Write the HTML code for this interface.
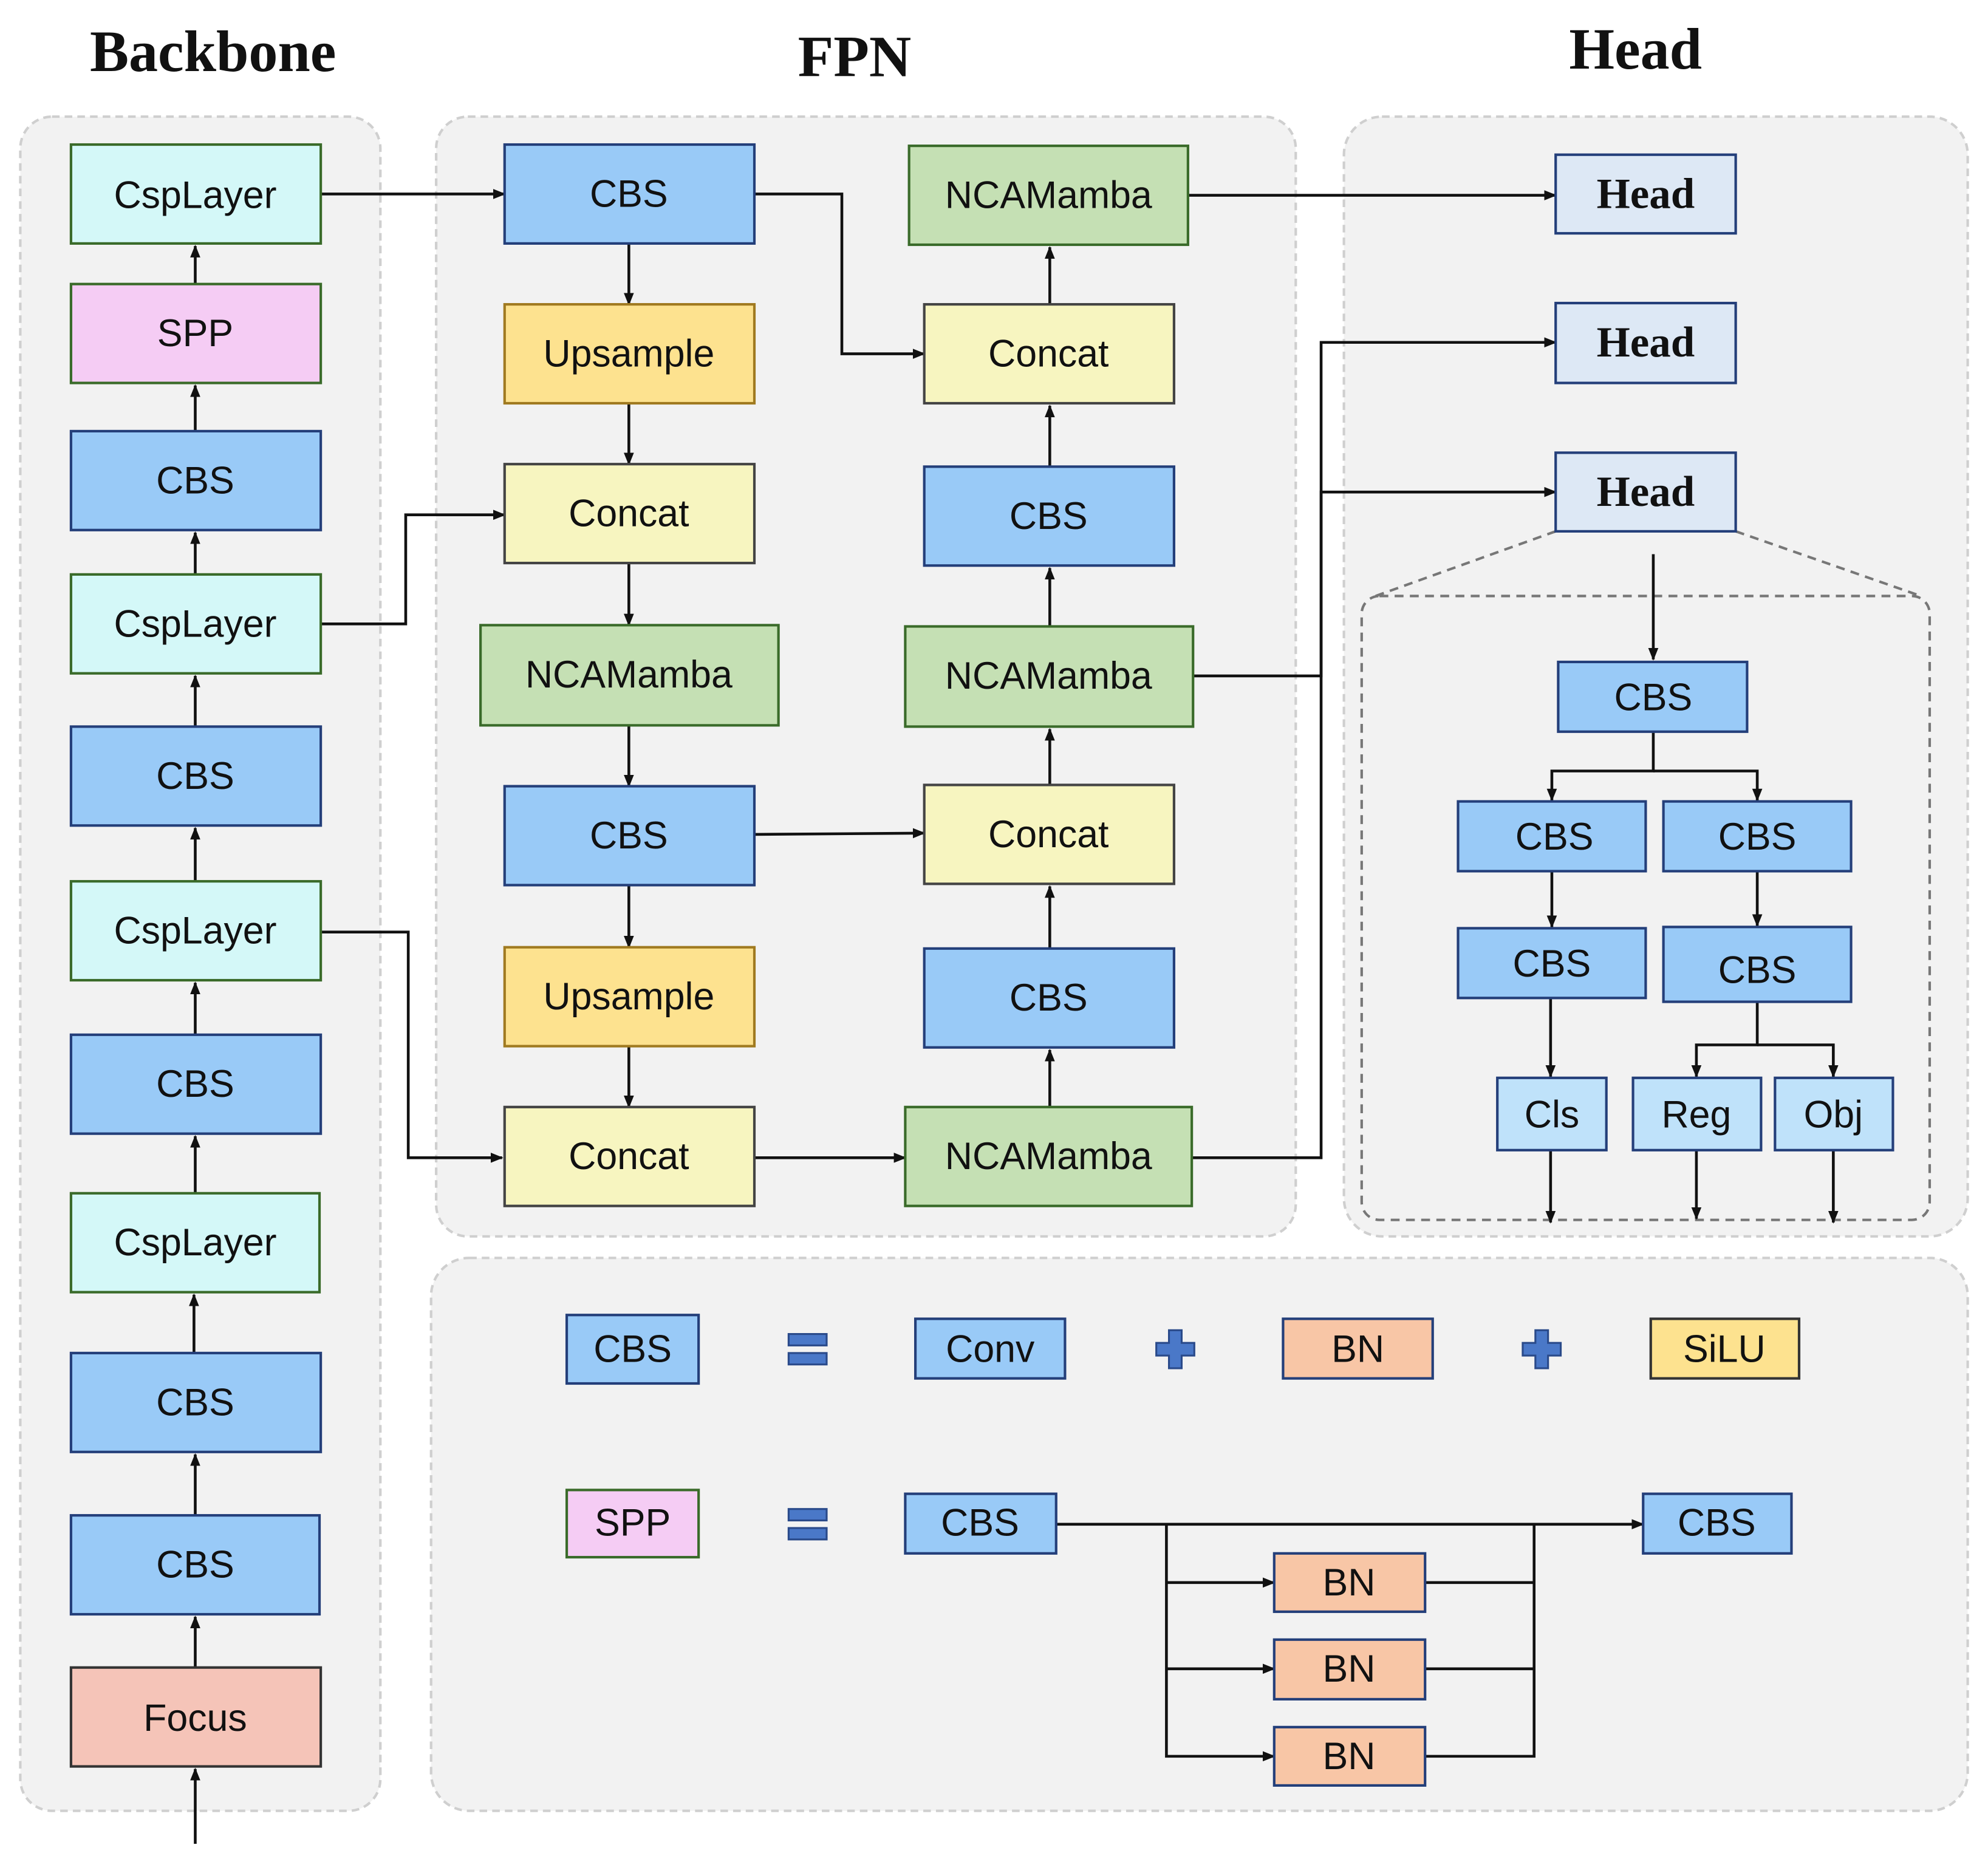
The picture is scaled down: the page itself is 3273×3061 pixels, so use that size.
<!DOCTYPE html>
<html><head><meta charset="utf-8"><style>
html,body{margin:0;padding:0;background:#fff;}
svg{display:block;}
text{font-family:"Liberation Sans",sans-serif;}
.t{font-size:30px;text-anchor:middle;dominant-baseline:central;fill:#111;}
.h{font-family:"Liberation Serif",serif;font-weight:bold;font-size:34px;text-anchor:middle;dominant-baseline:central;fill:#111;}
.ti{font-family:"Liberation Serif",serif;font-weight:bold;font-size:46px;text-anchor:middle;fill:#111;}
.ln{stroke:#111;stroke-width:2.2;fill:none;}
</style></head><body>
<svg width="3273" height="3061" viewBox="0 0 1568 1466" preserveAspectRatio="none" xmlns="http://www.w3.org/2000/svg">
<defs><marker id="a" markerWidth="10" markerHeight="8" refX="9" refY="4" orient="auto" markerUnits="userSpaceOnUse"><path d="M0,0 L10,4 L0,8 z" fill="#111"/></marker></defs>
<rect width="1568" height="1466" fill="#fff"/>
<text class="ti" x="168" y="56">Backbone</text>
<text class="ti" x="674" y="60">FPN</text>
<text class="ti" x="1290" y="54">Head</text>
<g fill="#f2f2f2" stroke="#cfcfcf" stroke-width="2" stroke-dasharray="6,4">
<rect x="16" y="92" width="284" height="1336" rx="25"/>
<rect x="344" y="92" width="678" height="883" rx="25"/>
<rect x="1060" y="92" width="492" height="883" rx="30"/>
<rect x="340" y="992" width="1212" height="436" rx="30"/>
</g>
<!-- head dashed region -->
<g stroke="#777" stroke-width="2" stroke-dasharray="7,5" fill="none">
<rect x="1074" y="470" width="448" height="492" rx="14"/>
<path d="M1227,419 L1085,470 M1369,419 L1515,470"/>
</g>
<!-- connectors -->
<g class="ln" marker-end="url(#a)">
<path d="M154,1454 V1395"/><path d="M154,1315 V1275"/><path d="M154,1195 V1147"/><path d="M153,1067 V1021"/><path d="M154,941 V896"/><path d="M154,816 V775"/><path d="M154,695 V653"/><path d="M154,573 V533"/><path d="M154,453 V420"/><path d="M154,340 V304"/><path d="M154,224 V194"/>
<path d="M253,153 H398"/><path d="M595,153 H664 V279 H729"/><path d="M253,492 H320 V406 H398"/><path d="M253,735 H322 V913 H396"/>
<path d="M496,192 V240"/><path d="M496,318 V366"/><path d="M496,444 V493"/><path d="M496,572 V620"/><path d="M496,698 V747"/><path d="M496,825 V873"/>
<path d="M595,658 L729,657"/><path d="M595,913 H714"/>
<path d="M828,873 V828"/><path d="M828,748 V699"/><path d="M828,619 V575"/><path d="M828,494 V448"/><path d="M828,368 V320"/><path d="M828,240 V195"/>
<path d="M937,154 H1227"/><path d="M941,533 H1042 V270 H1227"/><path d="M940,913 H1042 V388 H1227"/>
<path d="M1304,437 V520"/><path d="M1304,577 V608 H1224 V631"/><path d="M1304,608 H1386 V631"/>
<path d="M1224,687 V731"/><path d="M1386,687 V730"/><path d="M1223,787 V849"/><path d="M1386,790 V824 H1338 V849"/><path d="M1386,824 H1446 V849"/>
<path d="M1223,907 V964"/><path d="M1338,907 V961"/><path d="M1446,907 V964"/>
<path d="M833,1202 H1296"/><path d="M920,1202 V1385 H1005"/><path d="M920,1248 H1005"/><path d="M920,1316 H1005"/>
</g>
<path class="ln" d="M1124,1248 H1210 M1124,1316 H1210 M1124,1385 H1210 V1202"/>
<!-- boxes -->
<g stroke-width="2">
<g fill="#d4f8f8" stroke="#3a6b2a"><rect x="56" y="114" width="197" height="78"/><rect x="56" y="453" width="197" height="78"/><rect x="56" y="695" width="197" height="78"/><rect x="56" y="941" width="196" height="78"/></g>
<rect x="56" y="224" width="197" height="78" fill="#f5ccf4" stroke="#3a6b2a"/>
<rect x="56" y="1315" width="197" height="78" fill="#f5c4b8" stroke="#333"/>
<g fill="#99caf7" stroke="#243f7a">
<rect x="56" y="340" width="197" height="78"/><rect x="56" y="573" width="197" height="78"/><rect x="56" y="816" width="197" height="78"/><rect x="56" y="1067" width="197" height="78"/><rect x="56" y="1195" width="196" height="78"/>
<rect x="398" y="114" width="197" height="78"/><rect x="398" y="620" width="197" height="78"/><rect x="729" y="368" width="197" height="78"/><rect x="729" y="748" width="197" height="78"/>
<rect x="1229" y="522" width="149" height="55"/><rect x="1150" y="632" width="148" height="55"/><rect x="1312" y="632" width="148" height="55"/><rect x="1150" y="732" width="148" height="55"/><rect x="1312" y="731" width="148" height="59"/>
<rect x="447" y="1037" width="104" height="54"/><rect x="722" y="1040" width="118" height="47"/><rect x="714" y="1178" width="119" height="47"/><rect x="1296" y="1178" width="117" height="47"/>
</g>
<g fill="#bfe2fa" stroke="#243f7a"><rect x="1181" y="850" width="86" height="57"/><rect x="1288" y="850" width="101" height="57"/><rect x="1400" y="850" width="93" height="57"/></g>
<g fill="#fde28f" stroke="#a07a20"><rect x="398" y="240" width="197" height="78"/><rect x="398" y="747" width="197" height="78"/><rect x="1302" y="1040" width="117" height="47" stroke="#333"/></g>
<g fill="#f7f5c0" stroke="#444"><rect x="398" y="366" width="197" height="78"/><rect x="398" y="873" width="197" height="78"/><rect x="729" y="240" width="197" height="78"/><rect x="729" y="619" width="197" height="78"/></g>
<g fill="#c5e0b4" stroke="#3a6b2a"><rect x="379" y="493" width="235" height="79"/><rect x="717" y="115" width="220" height="78"/><rect x="714" y="494" width="227" height="79"/><rect x="714" y="873" width="226" height="78"/></g>
<g fill="#dde8f5" stroke="#243f7a"><rect x="1227" y="122" width="142" height="62"/><rect x="1227" y="239" width="142" height="63"/><rect x="1227" y="357" width="142" height="62"/></g>
<g fill="#f8c6a6" stroke="#243f7a"><rect x="1012" y="1040" width="118" height="47"/><rect x="1005" y="1225" width="119" height="46"/><rect x="1005" y="1293" width="119" height="47"/><rect x="1005" y="1362" width="119" height="46"/></g>
<rect x="447" y="1175" width="104" height="53" fill="#f5ccf4" stroke="#3a6b2a"/>
</g>
<!-- icons -->
<g fill="#4a78c8" stroke="#2a4a8a" stroke-width="1.5">
<rect x="622" y="1052" width="30" height="9"/><rect x="622" y="1067" width="30" height="9"/>
<rect x="622" y="1190" width="30" height="9"/><rect x="622" y="1205" width="30" height="9"/>
<path d="M922,1049 h10 v10 h10 v10 h-10 v10 h-10 v-10 h-10 v-10 h10 z"/>
<path d="M1211,1049 h10 v10 h10 v10 h-10 v10 h-10 v-10 h-10 v-10 h10 z"/>
</g>
<!-- labels -->
<text class="t" x="154" y="154">CspLayer</text><text class="t" x="154" y="263">SPP</text><text class="t" x="154" y="379">CBS</text><text class="t" x="154" y="492">CspLayer</text><text class="t" x="154" y="612">CBS</text><text class="t" x="154" y="734">CspLayer</text><text class="t" x="154" y="855">CBS</text><text class="t" x="154" y="980">CspLayer</text><text class="t" x="154" y="1106">CBS</text><text class="t" x="154" y="1234">CBS</text><text class="t" x="154" y="1355">Focus</text>
<text class="t" x="496" y="153">CBS</text><text class="t" x="496" y="279">Upsample</text><text class="t" x="496" y="405">Concat</text><text class="t" x="496" y="532">NCAMamba</text><text class="t" x="496" y="659">CBS</text><text class="t" x="496" y="786">Upsample</text><text class="t" x="496" y="912">Concat</text>
<text class="t" x="827" y="154">NCAMamba</text><text class="t" x="827" y="279">Concat</text><text class="t" x="827" y="407">CBS</text><text class="t" x="827" y="533">NCAMamba</text><text class="t" x="827" y="658">Concat</text><text class="t" x="827" y="787">CBS</text><text class="t" x="827" y="912">NCAMamba</text>
<text class="h" x="1298" y="153">Head</text><text class="h" x="1298" y="270">Head</text><text class="h" x="1298" y="388">Head</text>
<text class="t" x="1304" y="550">CBS</text><text class="t" x="1226" y="660">CBS</text><text class="t" x="1386" y="660">CBS</text><text class="t" x="1224" y="760">CBS</text><text class="t" x="1386" y="765">CBS</text>
<text class="t" x="1224" y="879">Cls</text><text class="t" x="1338" y="879">Reg</text><text class="t" x="1446" y="879">Obj</text>
<text class="t" x="499" y="1064">CBS</text><text class="t" x="781" y="1064">Conv</text><text class="t" x="1071" y="1064">BN</text><text class="t" x="1360" y="1064">SiLU</text>
<text class="t" x="499" y="1201">SPP</text><text class="t" x="773" y="1201">CBS</text><text class="t" x="1354" y="1201">CBS</text>
<text class="t" x="1064" y="1248">BN</text><text class="t" x="1064" y="1316">BN</text><text class="t" x="1064" y="1385">BN</text>
</svg>
</body></html>
